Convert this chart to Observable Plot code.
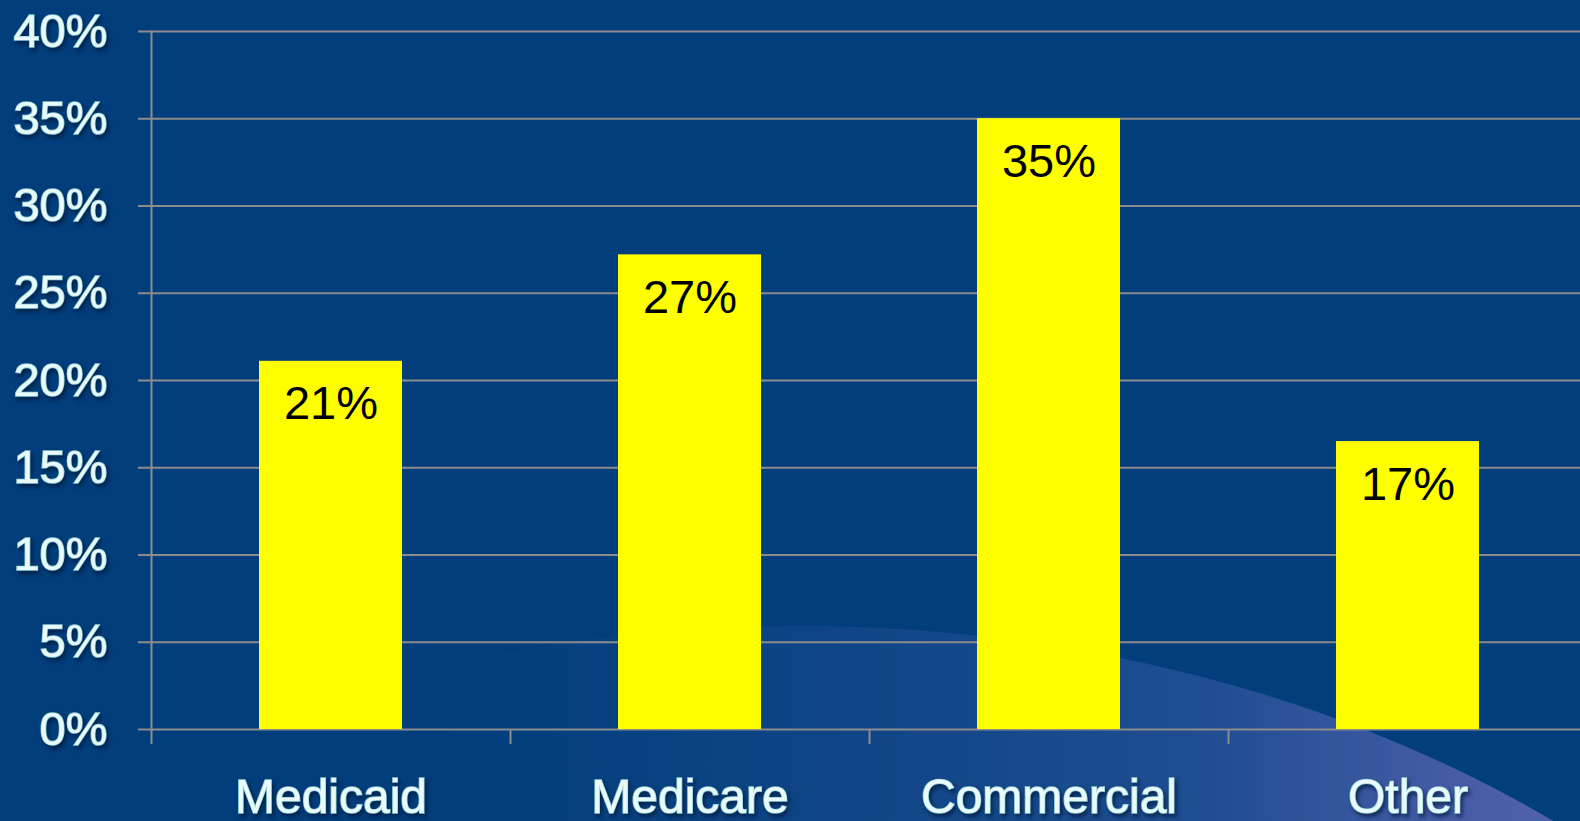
<!DOCTYPE html>
<html>
<head>
<meta charset="utf-8">
<script src="https://cdn.jsdelivr.net/npm/d3@7"></script>
<script src="https://cdn.jsdelivr.net/npm/@observablehq/plot@0.6"></script>
<style>
  html, body { margin: 0; padding: 0; width: 1580px; height: 821px; overflow: hidden; background: #023e7c; }
  #bg { position: absolute; left: 0; top: 0; width: 1580px; height: 821px; overflow: hidden; }
  #arc { position: absolute; left: -400px; top: 626px; width: 2400px; height: 1760px; border-radius: 50%;
         background: linear-gradient(to right, rgba(40,80,150,0) 35%, rgba(40,82,152,0.3) 50%, rgba(55,90,162,0.55) 67%, rgba(100,105,185,0.78) 80%); }
  #chart { position: absolute; left: 0; top: 0; }
  .axis-text text { fill: #eafafa; stroke: #8fcfd6; stroke-width: 1.6px; paint-order: stroke; filter: drop-shadow(2px 3px 2px rgba(0,20,50,0.7)); }
</style>
</head>
<body>
<div id="bg"><div id="arc"></div></div>
<div id="chart"></div>
<script>
const categories = ["Medicaid", "Medicare", "Commercial", "Other"];
const shares = [21.1, 27.2, 35.0, 16.5];
const labels = ["21%", "27%", "35%", "17%"];
const yTicks = [0, 5, 10, 15, 20, 25, 30, 35, 40];

const data = categories.map((c, i) => ({category: c, share: shares[i], label: labels[i]}));

const W = 1580, H = 821, ML = 151, MR = -7;
const step = (W - ML - MR) / categories.length;
const gridColor = "#8c8c8c";

const chart = Plot.plot({
  width: W,
  height: H,
  marginTop: 31,
  marginBottom: 92,
  marginLeft: ML,
  marginRight: MR,
  style: {background: "transparent", fontFamily: "'Liberation Sans', Arial, sans-serif", overflow: "hidden"},
  x: {domain: categories, padding: 0, label: null},
  y: {domain: [0, 40], label: null},
  marks: [
    Plot.ruleY(yTicks, {stroke: gridColor, strokeWidth: 2, insetRight: 7}),
    Plot.frame({anchor: "left", stroke: gridColor, strokeWidth: 2}),
    Plot.barY(data, {x: "category", y: "share", fill: "#ffff00", insetLeft: 108, insetRight: 108}),
    Plot.text(data, {x: "category", y: "share", text: "label", dy: 43, fill: "black", fontSize: 47, lineAnchor: "middle"}),
    Plot.axisY({ticks: yTicks, tickFormat: d => d + "%", tickSize: 13, tickPadding: 31, stroke: gridColor, strokeWidth: 2, fontSize: 47, className: "axis-text"}),
    Plot.axisX({tickSize: 15, text: null, dx: -step / 2, stroke: gridColor, strokeWidth: 2}),
    Plot.axisX({tickSize: 0, tickPadding: 49, fontSize: 48, className: "axis-text"})
  ]
});
document.getElementById("chart").appendChild(chart);
</script>
</body>
</html>
